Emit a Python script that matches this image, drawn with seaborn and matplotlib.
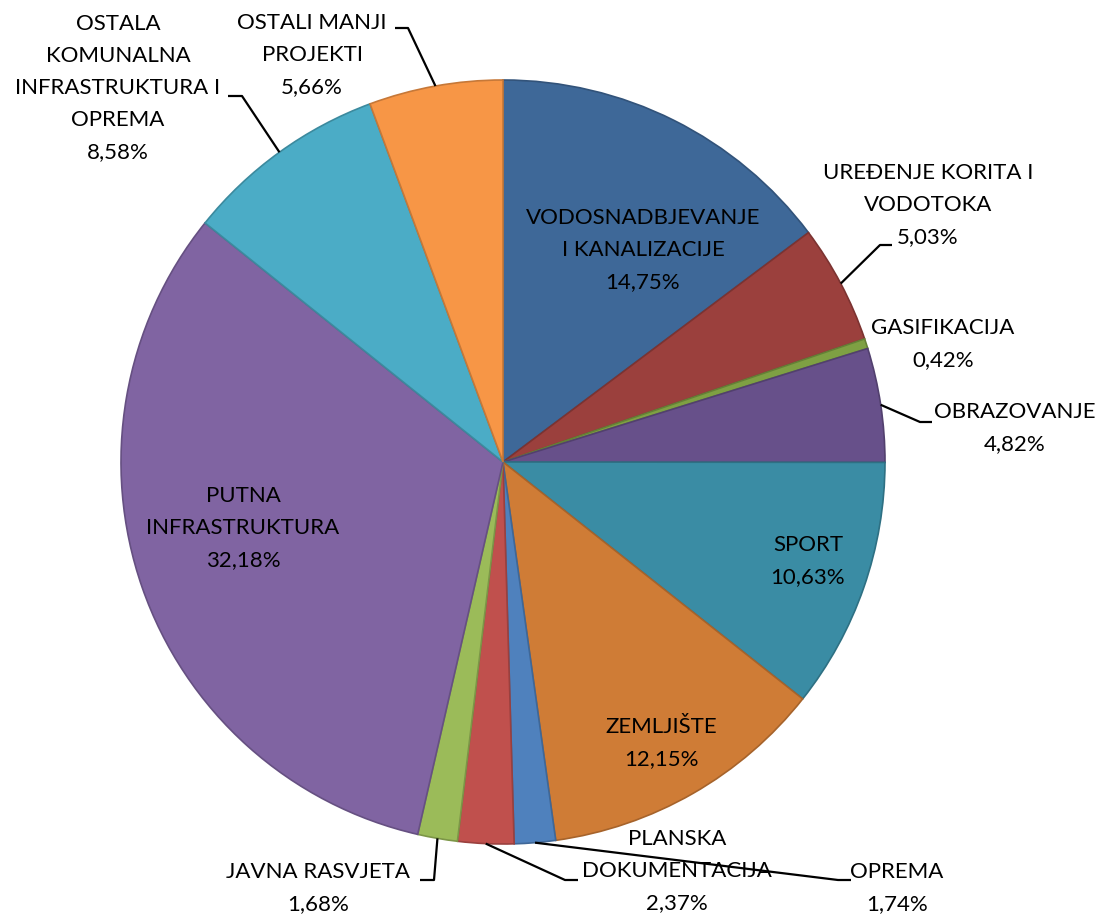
import numpy as np
import matplotlib
matplotlib.use("Agg")
import matplotlib.pyplot as plt
import matplotlib.colors as mcolors
import seaborn as sns

# shares of investment, clockwise from 12 o'clock
categories = ["VODOSNADBJEVANJE\nI KANALIZACIJE", "UREĐENJE KORITA I\nVODOTOKA",
              "GASIFIKACIJA", "OBRAZOVANJE", "SPORT", "ZEMLJIŠTE", "OPREMA",
              "PLANSKA\nDOKUMENTACIJA", "JAVNA RASVJETA", "PUTNA\nINFRASTRUKTURA",
              "OSTALA\nKOMUNALNA\nINFRASTRUKTURA I\nOPREMA", "OSTALI MANJI\nPROJEKTI"]
shares = [14.75, 5.03, 0.42, 4.82, 10.63, 12.15, 1.74, 2.37, 1.68, 32.18, 8.58, 5.66]
slice_colors = ["#3E6898", "#9B403D", "#7EA043", "#67508A", "#3A8CA4", "#CF7C36",
                "#4F81BD", "#C0504D", "#9BBB59", "#8064A2", "#4BACC6", "#F79646"]

W, H = 1099, 915
sns.set_theme(style="white")
plt.rcParams["font.family"] = ["Lato", "DejaVu Sans"]

fig = plt.figure(figsize=(W / 100, H / 100), dpi=100)
ax = fig.add_axes([0, 0, 1, 1])

pal = sns.color_palette(slice_colors)
cx, cy, R = 503, H - 462, 382
wedges, _ = ax.pie(shares, colors=pal, startangle=90, counterclock=False,
                   center=(cx, cy), radius=R, frame=True,
                   wedgeprops=dict(linewidth=1.2))
for w, c in zip(wedges, pal):
    w.set_edgecolor(tuple(np.array(mcolors.to_rgb(c)) * 0.8))
ax.set_xlim(0, W)
ax.set_ylim(0, H)
ax.axis("off")

# label centres (pixels from top) and leader elbow / end points
label_pos = [(643, 250), (928, 205), (943, 344), (1015, 428), (808, 561), (661, 743),
             (897, 888), (677, 871), (318, 888), (243, 528), (118, 88), (312, 55)]
leaders = {1: (880, 892, 245), 3: (920, 932, 422), 6: (838, 851, 880),
           7: (565, 578, 880), 8: (434, 420, 880), 10: (242, 228, 96),
           11: (408, 395, 28)}

for i, (name, v) in enumerate(zip(categories, shares)):
    txt = name + "\n" + f"{v:.2f}".replace(".", ",") + "%"
    x, y = label_pos[i]
    ax.text(x, H - y, txt, ha="center", va="center", ma="center",
            fontsize=16, color="black", linespacing=1.75)
    if i in leaders:
        w = wedges[i]
        mid = np.deg2rad((w.theta1 + w.theta2) / 2)
        px, py = cx + R * np.cos(mid), cy + R * np.sin(mid)
        ex, tx, ly = leaders[i]
        ax.plot([px, ex, tx], [py, H - ly, H - ly], color="black", lw=1.6,
                solid_capstyle="butt")

fig.savefig("out.png", dpi=100, facecolor="white")
